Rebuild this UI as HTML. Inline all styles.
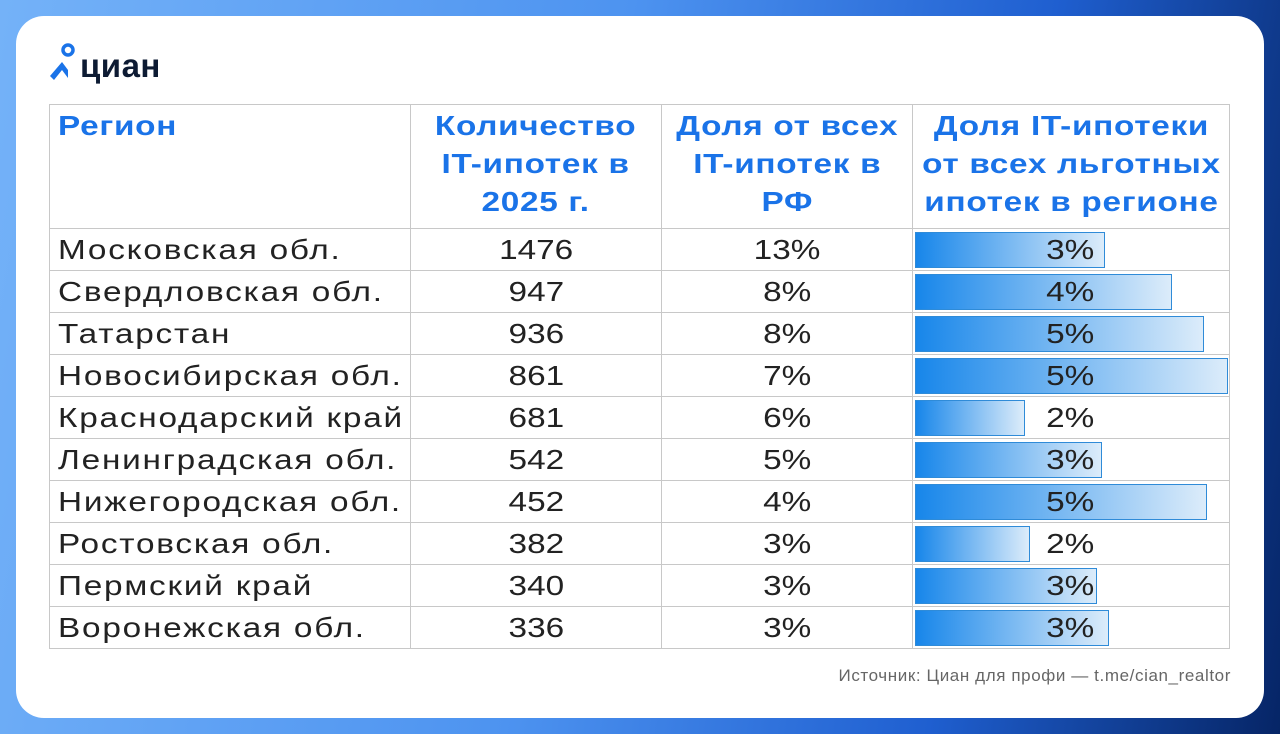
<!DOCTYPE html>
<html><head><meta charset="utf-8"><style>
*{margin:0;padding:0;box-sizing:border-box}
body{width:1280px;height:734px;overflow:hidden;position:relative;font-family:"Liberation Sans","DejaVu Sans",sans-serif;
background:linear-gradient(100deg,#74b2f8 0%,#4d93f0 45%,#1f5fd0 75%,#062566 100%);}
.card{position:absolute;left:16px;top:16px;width:1248px;height:702px;background:#fff;border-radius:28px}
.logo{position:absolute;left:80px;top:47px;font-size:33px;font-weight:bold;color:#0d1b33;letter-spacing:0.5px}
table{position:absolute;left:49px;top:104px;border-collapse:collapse;table-layout:fixed}
td,th{border:1px solid #c8c8c8;font-size:28px;color:#222;height:42px;padding:0;white-space:nowrap;line-height:40px}
th{height:124px;vertical-align:top;color:#1a73e8;font-weight:bold;line-height:38px;padding-top:2px;font-size:28px;letter-spacing:0.6px}
td.l{padding-left:8px;text-align:left;letter-spacing:1.5px}
th.l{text-align:left;padding-left:8px}
td.c{text-align:center}
td.b{position:relative;text-align:center}
.s{display:inline-block;transform:scaleX(1.19)}
.sl{display:inline-block;transform:scaleX(1.19);transform-origin:left center}
.bar{position:absolute;left:2px;top:3px;height:36px;border:1.5px solid #2f8bd8;background:linear-gradient(90deg,#1786ea,#dcecfa)}
td.b span{position:relative;margin-left:-2px}
.src{position:absolute;right:49px;top:666px;font-size:17px;color:#666;letter-spacing:0.6px}
</style></head><body>
<div class="card"></div>
<svg style="position:absolute;left:48px;top:42px" width="30" height="38" viewBox="0 0 30 38">
<circle cx="20" cy="8" r="5" fill="none" stroke="#1a73e8" stroke-width="3.5"/>
<path d="M2 34 L14 20 L20 28 L20 36 L14 28 L6 38Z" fill="#1a73e8"/>
</svg>
<div class="logo">циан</div>
<table>
<colgroup><col style="width:361px"><col style="width:251px"><col style="width:251px"><col style="width:317px"></colgroup>
<tr><th class="l"><span class="sl">Регион</span></th><th><span class="s">Количество<br>IT-ипотек в<br>2025 г.</span></th><th><span class="s">Доля от всех<br>IT-ипотек в<br>РФ</span></th><th><span class="s">Доля IT-ипотеки<br>от всех льготных<br>ипотек в регионе</span></th></tr>
<tr><td class="l"><span class="sl">Московская обл.</span></td><td class="c"><span class="s">1476</span></td><td class="c"><span class="s">13%</span></td><td class="b"><div class="bar" style="width:190px"></div><span class="s">3%</span></td></tr>
<tr><td class="l"><span class="sl">Свердловская обл.</span></td><td class="c"><span class="s">947</span></td><td class="c"><span class="s">8%</span></td><td class="b"><div class="bar" style="width:257px"></div><span class="s">4%</span></td></tr>
<tr><td class="l"><span class="sl">Татарстан</span></td><td class="c"><span class="s">936</span></td><td class="c"><span class="s">8%</span></td><td class="b"><div class="bar" style="width:289px"></div><span class="s">5%</span></td></tr>
<tr><td class="l"><span class="sl">Новосибирская обл.</span></td><td class="c"><span class="s">861</span></td><td class="c"><span class="s">7%</span></td><td class="b"><div class="bar" style="width:313px"></div><span class="s">5%</span></td></tr>
<tr><td class="l"><span class="sl">Краснодарский край</span></td><td class="c"><span class="s">681</span></td><td class="c"><span class="s">6%</span></td><td class="b"><div class="bar" style="width:110px"></div><span class="s">2%</span></td></tr>
<tr><td class="l"><span class="sl">Ленинградская обл.</span></td><td class="c"><span class="s">542</span></td><td class="c"><span class="s">5%</span></td><td class="b"><div class="bar" style="width:187px"></div><span class="s">3%</span></td></tr>
<tr><td class="l"><span class="sl">Нижегородская обл.</span></td><td class="c"><span class="s">452</span></td><td class="c"><span class="s">4%</span></td><td class="b"><div class="bar" style="width:292px"></div><span class="s">5%</span></td></tr>
<tr><td class="l"><span class="sl">Ростовская обл.</span></td><td class="c"><span class="s">382</span></td><td class="c"><span class="s">3%</span></td><td class="b"><div class="bar" style="width:115px"></div><span class="s">2%</span></td></tr>
<tr><td class="l"><span class="sl">Пермский край</span></td><td class="c"><span class="s">340</span></td><td class="c"><span class="s">3%</span></td><td class="b"><div class="bar" style="width:182px"></div><span class="s">3%</span></td></tr>
<tr><td class="l"><span class="sl">Воронежская обл.</span></td><td class="c"><span class="s">336</span></td><td class="c"><span class="s">3%</span></td><td class="b"><div class="bar" style="width:194px"></div><span class="s">3%</span></td></tr>
</table>
<div class="src">Источник: Циан для профи — t.me/cian_realtor</div>
</body></html>
